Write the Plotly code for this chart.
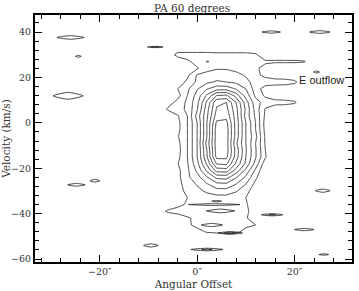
import plotly.graph_objects as go

# angular offset (arcsec) and velocity (km/s) of the core intensity grid
offsets = [-8, -6, -4, -2, 0, 2, 4, 6, 8, 10, 12, 14, 16, 18, 20, 22, 24]
velocities = [33, 30, 27, 24, 21, 18, 15, 12, 9, 6, 3, 0, -3, -6, -9, -12, -15,
              -18, -21, -24, -27, -30, -33, -36, -39, -42, -45, -48, -51]

intensity = [
    [0, 0, 0, 0, 0, 0, 0, 0, 0, 0, 0, 0, 0, 0, 0, 0, 0],
    [0, 0, 1.5, 1.5, 1.5, 1.5, 1.4, 1.4, 1.4, 1.4, 1.2, 0, 0, 0, 0, 0, 0],
    [0, 0, 0, 0.8, 1.4, 2.05, 1.8, 1.7, 1.5, 1.4, 1.3, 1.2, 1.2, 1.2, 1.2, 1.1, 0],
    [0, 0, 0, 0, 0.9, 1.6, 1.9, 1.9, 1.7, 1.5, 1.2, 0.6, 0, 0, 0, 0, 0],
    [0, 0, 0, 0.8, 2.1, 2.4, 2.6, 2.5, 2.3, 1.9, 1.3, 0.7, 0, 0, 0, 0, 0],
    [0, 0, 0.4, 1.2, 2.2, 2.8, 3.1, 3.0, 2.8, 2.3, 1.6, 1.6, 1.8, 1.7, 1.3, 0, 0],
    [0, 0, 1.0, 1.8, 2.9, 3.9, 4.6, 4.6, 3.9, 3.0, 1.5, 0.5, 0, 0, 0, 0, 0],
    [0, 0, 0.6, 2.0, 3.4, 5.2, 7.0, 7.2, 5.6, 3.6, 1.8, 0.8, 0, 0, 0, 0, 0],
    [0, 0.4, 1.4, 2.2, 3.7, 6.2, 8.8, 9.0, 7.0, 4.5, 2.4, 1.6, 1.6, 1.5, 1.2, 0, 0],
    [0, 1.2, 1.6, 2.2, 3.9, 6.6, 9.1, 9.3, 7.3, 4.8, 2.6, 0.9, 0, 0, 0, 0, 0],
    [0, 0, 0.9, 2.0, 4.4, 6.8, 9.5, 9.7, 7.5, 4.6, 2.8, 0.8, 0, 0, 0, 0, 0],
    [0, 0, 0.7, 2.0, 4.0, 7.0, 10.2, 10.3, 7.6, 5.0, 3.0, 0.6, 0, 0, 0, 0, 0],
    [0, 0, 0.7, 2.0, 4.0, 7.0, 10.5, 10.5, 7.6, 5.0, 3.0, 0.7, 0, 0, 0, 0, 0],
    [0, 0, 0.9, 2.0, 4.0, 7.0, 10.5, 10.5, 7.6, 5.0, 3.3, 0.8, 0, 0, 0, 0, 0],
    [0, 0, 0.7, 2.0, 4.0, 7.4, 10.5, 10.5, 7.2, 5.0, 3.0, 0.9, 0, 0, 0, 0, 0],
    [0, 0, 0.6, 2.0, 4.0, 7.0, 10.5, 10.5, 7.6, 5.1, 3.1, 1.0, 0, 0, 0, 0, 0],
    [0, 0, 0.7, 2.0, 4.0, 6.9, 10.3, 10.3, 7.5, 5.0, 3.1, 1.1, 0, 0, 0, 0, 0],
    [0, 0, 0.95, 1.9, 3.7, 6.2, 9.1, 9.2, 6.8, 4.8, 2.6, 0.4, 0, 0, 0, 0, 0],
    [0, 0, 0.7, 1.8, 3.2, 5.2, 7.4, 7.5, 5.6, 3.7, 1.8, 0, 0, 0, 0, 0, 0],
    [0, 0, 0.7, 1.8, 2.6, 3.9, 5.3, 5.4, 4.1, 2.8, 1.2, 0, 0, 0, 0, 0, 0],
    [0, 0, 0.7, 1.4, 2.1, 2.9, 3.7, 3.8, 3.0, 2.0, 0.7, 0, 0, 0, 0, 0, 0],
    [0, 0, 0.7, 1.2, 1.7, 2.2, 2.6, 2.6, 2.1, 1.4, 0.3, 0, 0, 0, 0, 0, 0],
    [0, 0, 0.6, 1.0, 1.3, 1.5, 1.6, 1.6, 1.4, 1.0, 0, 0, 0, 0, 0, 0, 0],
    [0, 0.3, 0.8, 1.1, 1.2, 1.3, 1.4, 1.4, 1.3, 1.1, 0.5, 0, 0, 0, 0, 0, 0],
    [0.4, 1.2, 1.3, 1.4, 1.5, 1.6, 1.9, 1.9, 1.7, 1.3, 0.3, 0, 0, 0, 0, 0, 0],
    [0, 0, 0.5, 0.9, 1.2, 1.3, 1.3, 1.3, 1.2, 1.1, 0.4, 0, 0, 0, 0, 0, 0],
    [0, 0, 0, 0.8, 1.3, 1.4, 1.4, 1.4, 1.3, 1.2, 1.0, 0, 0, 0, 0, 0, 0],
    [0, 0, 0, 0, 0.6, 1.1, 1.2, 1.3, 1.2, 0.7, 0, 0, 0, 0, 0, 0, 0],
    [0, 0, 0, 0, 0, 0, 0, 0, 0, 0, 0, 0, 0, 0, 0, 0, 0],
]

# isolated peaks: centre offset, centre velocity, half width, half height, peak
speck_x = [-26.0, -24.4, -8.6, -26.5, -24.8, -21.0, -9.5, 15.2, 25.2, 24.5, 25.8, 15.4,
           22.0, 26.0, 4.8, 3.5, 4.0, 3.0, 6.8, 2.0]
speck_v = [37.6, 29.3, 33.4, 11.9, -27.3, -25.5, -54.0, 40.0, 40.0, 22.4, -29.9, -40.5,
           -47.0, -58.0, -38.8, -36.0, -34.5, -45.0, -48.5, -55.8]
speck_w = [2.8, 0.6, 1.6, 3.1, 1.8, 1.0, 1.5, 1.9, 2.1, 0.6, 1.5, 2.2,
           2.0, 1.0, 2.9, 5.3, 1.0, 2.2, 2.5, 3.3]
speck_h = [0.8, 0.4, 0.4, 1.5, 0.6, 0.6, 0.7, 0.5, 0.6, 0.4, 0.7, 0.5,
           0.5, 0.3, 0.8, 0.4, 0.3, 0.7, 0.6, 0.6]
speck_peak = [1.6, 1.3, 3.0, 1.8, 1.6, 1.5, 2.0, 1.6, 1.6, 1.4, 1.6, 2.5,
              1.8, 1.5, 2.0, 1.5, 1.5, 1.6, 3.0, 2.5]

levels = dict(start=1, end=10, size=1, coloring='lines')
ink = [[0, '#1a1a1a'], [1, '#1a1a1a']]

traces = [go.Contour(x=offsets, y=velocities, z=intensity, contours=levels,
                     colorscale=ink, showscale=False, line=dict(width=0.8, smoothing=0),
                     hoverinfo='skip')]

for x0, v0, w, h, p in zip(speck_x, speck_v, speck_w, speck_h, speck_peak):
    sx = w / (1 - 1 / p)
    sy = h / (1 - 1 / p)
    traces.append(go.Contour(
        x=[x0 - sx, x0, x0 + sx], y=[v0 - sy, v0, v0 + sy],
        z=[[0, 0, 0], [0, p, 0], [0, 0, 0]],
        contours=levels, colorscale=ink, showscale=False,
        line=dict(width=0.8, smoothing=0.6), hoverinfo='skip'))

serif = 'DejaVu Serif'
axis_style = dict(showline=True, linewidth=2, linecolor='black', mirror='ticks',
                  ticks='inside', ticklen=7, tickwidth=1, tickcolor='black',
                  showgrid=False, zeroline=False, automargin=False,
                  tickfont=dict(family=serif, size=9.5, color='#333'),
                  minor=dict(dtick=4, ticks='inside', ticklen=4, tickcolor='black', showgrid=False))

layout = go.Layout(
    width=359, height=291,
    margin=dict(l=35, r=7, t=15, b=29),
    paper_bgcolor='white', plot_bgcolor='white',
    title=dict(text='PA 60 degrees', x=0.535, xanchor='center', y=0.985, yanchor='top',
               font=dict(family=serif, size=10.5, color='#333')),
    xaxis=dict(axis_style, range=[-33.3, 31.8], tickvals=[-20, 0, 20],
               ticktext=['\u221220\u2033', '0\u2033', '20\u2033'], tick0=0,
               title=dict(text='Angular Offset', standoff=4,
                          font=dict(family=serif, size=10.5, color='#333'))),
    yaxis=dict(axis_style, range=[-61.3, 47.5], tick0=0, dtick=20,
               title=dict(text='Velocity (km/s)', standoff=2,
                          font=dict(family=serif, size=10.5, color='#333'))),
    showlegend=False,
    annotations=[dict(x=20.6, y=18.8, xref='x', yref='y', text='E outflow', showarrow=False,
                      xanchor='left', yanchor='middle',
                      font=dict(family='Liberation Sans', size=11, color='#222'))],
)

fig = go.Figure(data=traces, layout=layout)
fig.write_html("out.html", config={'displayModeBar': False},
               post_script="document.body.style.margin='0px';")
